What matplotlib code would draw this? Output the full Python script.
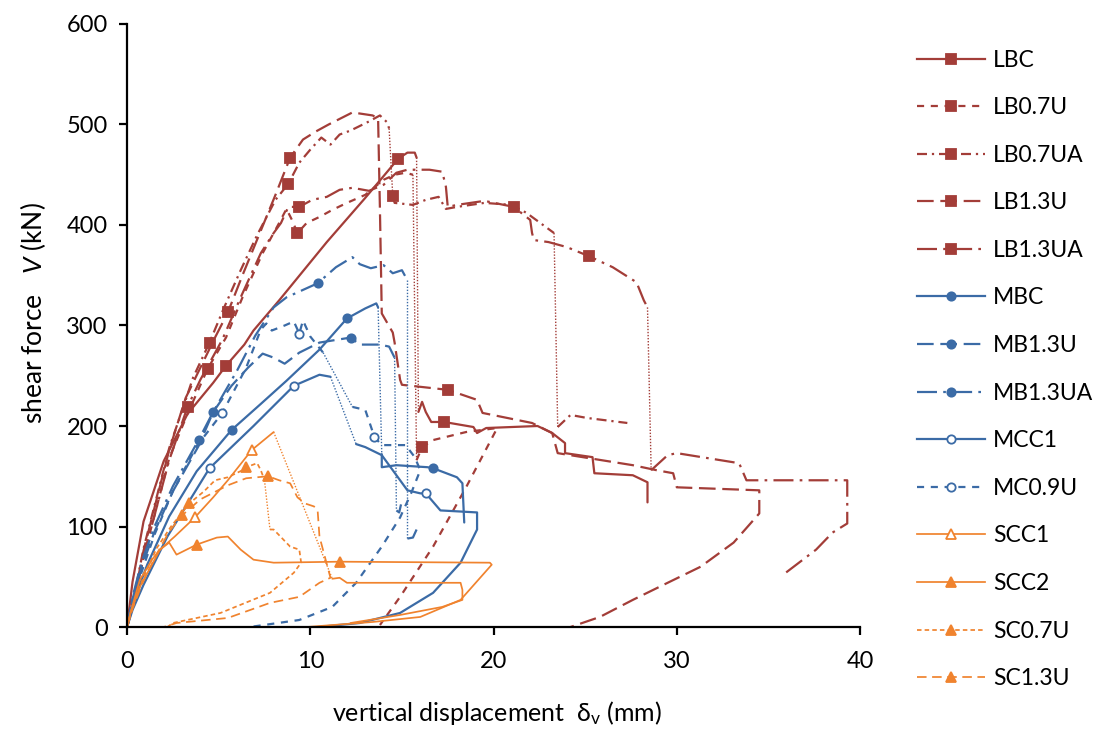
import matplotlib
matplotlib.use('Agg')
import matplotlib.pyplot as plt
from matplotlib.lines import Line2D

plt.rcParams['font.family'] = ['Lato', 'DejaVu Sans']
plt.rcParams['mathtext.fontset'] = 'custom'
plt.rcParams['mathtext.rm'] = 'Lato'
plt.rcParams['mathtext.it'] = 'Lato:italic'

# ---------------- data (x: vertical displacement mm, v: shear force kN) ----------------
LBC_X1 = [0, 0.3, 0.9, 2.0, 3.3, 4.7, 5.4, 6.4, 6.9, 8.3, 10.9, 13.0, 14.8, 15.3, 15.7, 15.8]
LBC_V1 = [0, 45, 105, 165, 212, 243, 260, 281, 295, 325, 383, 427, 466, 472, 472, 467]
LBC_X2 = [15.9, 16.1, 16.3, 16.6, 17.3, 18.9, 19.1, 19.6, 22.4, 23.2, 23.9, 23.9, 25.4, 25.5, 27.6, 28.4, 28.4]
LBC_V2 = [214, 224, 214, 204, 204, 199, 193, 198, 200, 193, 183, 173, 169, 153, 151, 144, 124]
LBC_MX = [5.4, 14.8, 17.3]
LBC_MV = [260, 466, 204]

LB07U_X1 = [0, 0.4, 0.9, 1.6, 2.3, 3.3, 4.4, 5.4, 6.3, 7.4, 8.3, 8.7, 9.0, 9.3, 9.8, 10.5, 11.2, 12.0, 13.0, 14.0, 14.6, 15.2, 15.6]
LB07U_V1 = [0, 28, 70, 118, 168, 212, 257, 288, 328, 372, 402, 416, 405, 392, 402, 408, 415, 422, 430, 445, 450, 452, 450]
LB07U_X2 = [15.8, 16.1, 16.7, 18.5, 20.2, 18.5, 16.7, 14.9, 13.8]
LB07U_V2 = [166, 179, 186, 194, 198, 139, 80, 30, 2]
LB07U_MX = [4.4, 9.3, 16.1]
LB07U_MV = [257, 392, 179]

LB07UA_X1 = [0, 0.4, 0.9, 1.6, 2.3, 3.2, 3.6, 4.5, 5.3, 6.2, 7.1, 8.1, 8.8, 9.4, 10.0, 10.6, 11.1, 11.6, 12.2, 13.2, 13.8, 14.2, 14.3]
LB07UA_V1 = [0, 32, 78, 128, 178, 226, 248, 283, 318, 355, 390, 425, 441, 462, 475, 487, 480, 490, 494, 503, 509, 502, 496]
LB07UA_X2 = [14.5, 14.6, 15.6, 16.3, 17.0, 17.4, 18.0, 19.5, 21.0, 21.8, 22.7, 23.3]
LB07UA_V2 = [429, 422, 420, 425, 428, 416, 418, 422, 420, 412, 400, 392]
LB07UA_X3 = [23.5, 24.2, 25.1, 27.3]
LB07UA_V3 = [199, 211, 208, 203]
LB07UA_MX = [4.5, 8.8, 14.5]
LB07UA_MV = [283, 441, 429]

LB13U_X1 = [0, 0.4, 0.9, 1.6, 2.3, 3.2, 4.0, 4.8, 5.5, 6.3, 7.2, 8.1, 8.9, 9.6, 10.3, 11.0, 12.3, 13.4, 13.7,
            13.8, 13.9, 14.5, 14.6, 14.9, 15.0, 17.5, 19.1, 19.4, 22.1, 23.2, 23.5, 27.6, 28.9, 29.8, 30.0,
            34.5, 34.5, 33.1, 31.3, 29.5, 27.6, 25.8, 24.2]
LB13U_V1 = [0, 30, 76, 126, 176, 228, 258, 288, 313, 350, 390, 430, 467, 485, 493, 500, 512, 509, 506,
            415, 312, 293, 283, 246, 241, 236, 226, 213, 203, 193, 173, 161, 156, 153, 139,
            136, 113, 84, 60, 44, 27, 10, 0]
LB13U_MX = [5.5, 8.9, 17.5]
LB13U_MV = [313, 467, 236]

LB13UA_X1 = [0, 0.4, 0.9, 1.6, 2.3, 3.3, 4.0, 5.2, 6.2, 7.3, 8.0, 8.4, 8.8, 9.4, 10.1, 10.9, 11.6, 12.3, 13.2,
             14.0, 14.7, 15.3, 16.5, 17.2, 17.4, 17.5, 18.0, 19.5, 21.1, 22.0, 22.1, 22.2, 23.0, 24.0, 25.2,
             26.5, 27.8, 28.2, 28.4]
LB13UA_V1 = [0, 26, 70, 118, 166, 219, 246, 286, 328, 372, 392, 402, 418, 418, 425, 428, 435, 437, 434,
             440, 452, 455, 455, 453, 438, 418, 420, 424, 418, 405, 392, 385, 383, 378, 369,
             358, 343, 325, 318]
LB13UA_X2 = [28.6, 29.5, 30.0, 33.4, 33.8, 39.3, 39.3, 38.5, 37.6, 35.8]
LB13UA_V2 = [156, 171, 173, 163, 146, 146, 103, 94, 77, 52]
LB13UA_MX = [3.3, 9.4, 21.1, 25.2]
LB13UA_MV = [219, 418, 418, 369]

MBC_X1 = [0, 0.3, 1.1, 2.3, 3.8, 5.7, 7.3, 8.7, 10.5, 12.0, 13.0, 13.6, 13.7]
MBC_V1 = [0, 22, 62, 110, 155, 196, 222, 245, 276, 307, 317, 322, 318]
MBC_X2 = [13.9, 13.9, 14.7, 16.4, 16.7, 18.0, 18.3, 18.4]
MBC_V2 = [172, 159, 161, 159, 158, 149, 143, 104]
MBC_MX = [5.7, 12.0, 16.7]
MBC_MV = [196, 307, 158]

MB13U_X1 = [0, 0.3, 0.8, 1.5, 2.5, 3.9, 4.7, 5.7, 6.6, 7.4, 8.0, 8.6, 9.4, 10.5, 12.2, 12.7, 13.8, 14.3, 14.6]
MB13U_V1 = [0, 28, 60, 95, 135, 180, 214, 240, 258, 272, 268, 262, 273, 283, 288, 281, 281, 279, 268]
MB13U_X2 = [14.7, 14.85, 14.95]
MB13U_V2 = [116, 114, 122]
MB13U_MX = [4.7, 12.2]
MB13U_MV = [214, 288]

MB13UA_X1 = [0, 0.3, 0.8, 1.5, 2.5, 3.9, 4.7, 6.0, 7.0, 8.0, 8.7, 10.4, 11.4, 12.3, 12.7, 13.3, 14.0, 14.5, 15.0, 15.3]
MB13UA_V1 = [0, 30, 65, 100, 140, 186, 214, 255, 290, 318, 328, 342, 358, 368, 361, 357, 360, 352, 355, 345]
MB13UA_X2 = [15.3, 15.6, 15.8]
MB13UA_V2 = [88, 89, 97]
MB13UA_MX = [3.9, 10.4]
MB13UA_MV = [186, 342]

MCC1_X1 = [0, 0.3, 0.9, 2.2, 4.5, 6.9, 9.1, 10.5, 11.1]
MCC1_V1 = [0, 17, 42, 90, 158, 200, 240, 251, 249]
MCC1_X2 = [12.5, 13.0, 13.9, 14.5, 15.3, 16.0, 16.3, 17.1, 19.1, 19.1, 18.2, 16.7, 14.9, 12.7, 10.4]
MCC1_V2 = [182, 179, 171, 156, 136, 133, 133, 116, 114, 97, 64, 34, 14, 4, 0]
MCC1_MX = [4.5, 9.1, 16.3]
MCC1_MV = [158, 240, 133]

MC09U_X1 = [0, 0.3, 0.8, 1.5, 2.5, 3.8, 5.2, 6.5, 7.3, 7.6, 7.9, 8.6, 9.1, 9.4, 9.6, 10.0, 10.7]
MC09U_V1 = [0, 25, 55, 92, 135, 180, 213, 258, 296, 302, 295, 300, 304, 292, 305, 289, 273]
MC09U_X2 = [12.3, 13.0, 13.5, 13.9, 15.2, 15.7, 16.0, 15.5, 14.9, 13.9, 12.5, 11.2, 9.4, 6.7]
MC09U_V2 = [219, 216, 189, 181, 181, 169, 156, 133, 109, 80, 44, 20, 7, 0]
MC09U_MX = [5.2, 9.4, 13.5]
MC09U_MV = [213, 292, 189]

SCC1_X1 = [0, 0.2, 0.7, 1.8, 2.6, 3.7, 4.7, 5.5, 6.8, 8.0]
SCC1_V1 = [0, 15, 40, 77, 90, 109, 129, 146, 176, 194]
SCC1_X2 = [11.2, 11.6, 12.0, 18.2, 18.3, 18.3, 17.2, 14.9, 12.2]
SCC1_V2 = [48, 49, 44, 44, 37, 27, 20, 12, 4]
SCC1_MX = [3.7, 6.8]
SCC1_MV = [109, 176]

SCC2_X1 = [0, 0.2, 0.7, 1.4, 1.8, 2.3, 2.7, 3.8, 4.9, 5.5, 6.2, 6.9, 8.0, 11.6, 19.8, 19.9, 18.2, 16.0, 13.4, 9.8]
SCC2_V1 = [0, 15, 47, 68, 77, 84, 72, 82, 89, 90, 77, 67, 64, 65, 64, 62, 27, 10, 5, 0]
SCC2_MX = [3.8, 11.6]
SCC2_MV = [82, 65]

SC07U_X1 = [0, 0.3, 0.8, 1.6, 2.4, 3.4, 4.2, 4.8, 5.5, 6.3, 6.5, 7.1, 7.3, 7.5]
SC07U_V1 = [0, 20, 45, 78, 100, 123, 135, 146, 149, 156, 159, 163, 156, 146]
SC07U_X2 = [7.8, 8.0, 8.9, 9.4, 9.5, 9.1, 7.8, 5.1, 2.5, 2.2]
SC07U_V2 = [97, 97, 80, 77, 64, 54, 34, 14, 4, 0]
SC07U_MX = [3.4, 6.5]
SC07U_MV = [123, 159]

SC13U_X1 = [0, 0.3, 0.8, 1.6, 2.3, 3.0, 4.0, 5.5, 6.5, 7.7, 8.3, 8.9, 9.3, 9.7, 10.2, 10.4, 10.5, 11.1,
            10.5, 9.4, 7.8, 5.5, 2.7, 2.0]
SC13U_V1 = [0, 18, 42, 72, 95, 111, 127, 141, 148, 150, 146, 143, 129, 123, 120, 116, 90, 49,
            44, 30, 24, 9, 4, 0]
SC13U_MX = [3.0, 7.7]
SC13U_MV = [111, 150]

LABELS = ['LBC', 'LB0.7U', 'LB0.7UA', 'LB1.3U', 'LB1.3UA', 'MBC', 'MB1.3U', 'MB1.3UA',
          'MCC1', 'MC0.9U', 'SCC1', 'SCC2', 'SC0.7U', 'SC1.3U']

# ---------------- styles ----------------
RED = '#A33D38'
BLUE = '#3B6BA6'
ORANGE = '#F0832E'

SOLID = '-'
DASH = (0, (3.2, 3.0))
LDASH = (0, (7.5, 3.0))
DDOT = (0, (4.5, 2.2, 1.0, 2.2))
LDDOT = (0, (9, 2.8, 1.2, 2.8))
ODASH = (0, (2.6, 1.8))
OMDASH = (0, (5.5, 3.2))

series = [
    ('LBC', [(LBC_X1, LBC_V1), (LBC_X2, LBC_V2)], (LBC_MX, LBC_MV), RED, SOLID, 's', True),
    ('LB0.7U', [(LB07U_X1, LB07U_V1), (LB07U_X2, LB07U_V2)], (LB07U_MX, LB07U_MV), RED, DASH, 's', True),
    ('LB0.7UA', [(LB07UA_X1, LB07UA_V1), (LB07UA_X2, LB07UA_V2), (LB07UA_X3, LB07UA_V3)], (LB07UA_MX, LB07UA_MV), RED, DDOT, 's', True),
    ('LB1.3U', [(LB13U_X1, LB13U_V1)], (LB13U_MX, LB13U_MV), RED, LDASH, 's', True),
    ('LB1.3UA', [(LB13UA_X1, LB13UA_V1), (LB13UA_X2, LB13UA_V2)], (LB13UA_MX, LB13UA_MV), RED, LDDOT, 's', True),
    ('MBC', [(MBC_X1, MBC_V1), (MBC_X2, MBC_V2)], (MBC_MX, MBC_MV), BLUE, SOLID, 'o', True),
    ('MB1.3U', [(MB13U_X1, MB13U_V1), (MB13U_X2, MB13U_V2)], (MB13U_MX, MB13U_MV), BLUE, LDASH, 'o', True),
    ('MB1.3UA', [(MB13UA_X1, MB13UA_V1), (MB13UA_X2, MB13UA_V2)], (MB13UA_MX, MB13UA_MV), BLUE, LDDOT, 'o', True),
    ('MCC1', [(MCC1_X1, MCC1_V1), (MCC1_X2, MCC1_V2)], (MCC1_MX, MCC1_MV), BLUE, SOLID, 'o', False),
    ('MC0.9U', [(MC09U_X1, MC09U_V1), (MC09U_X2, MC09U_V2)], (MC09U_MX, MC09U_MV), BLUE, DASH, 'o', False),
    ('SCC1', [(SCC1_X1, SCC1_V1), (SCC1_X2, SCC1_V2)], (SCC1_MX, SCC1_MV), ORANGE, SOLID, '^', False),
    ('SCC2', [(SCC2_X1, SCC2_V1)], (SCC2_MX, SCC2_MV), ORANGE, SOLID, '^', True),
    ('SC0.7U', [(SC07U_X1, SC07U_V1), (SC07U_X2, SC07U_V2)], (SC07U_MX, SC07U_MV), ORANGE, ODASH, '^', True),
    ('SC1.3U', [(SC13U_X1, SC13U_V1)], (SC13U_MX, SC13U_MV), ORANGE, OMDASH, '^', True),
]

fig = plt.figure(figsize=(10.99, 7.29), dpi=100)
ax = fig.add_axes([0.1156, 0.1399, 0.6670, 0.8272])

handles = []
for name, segs, (mx, mv), col, ls, mk, filled in series:
    is_orange = col == ORANGE
    lw = 1.25 if is_orange else 1.6
    ms = {'s': 6.5, 'o': 6.0, '^': 7.5}[mk]
    mfc = col if filled else 'white'
    for i, (sx, sv) in enumerate(segs):
        ax.plot(sx, sv, color=col, lw=lw, linestyle=ls, solid_capstyle='round',
                dash_capstyle='butt', zorder=2)
        if i + 1 < len(segs):
            nx, nv = segs[i + 1]
            ax.plot([sx[-1], nx[0]], [sv[-1], nv[0]], color=col, lw=1.0,
                    linestyle=(0, (1.0, 1.2)), zorder=2)
    ax.plot(mx, mv, linestyle='none', marker=mk, ms=ms, mfc=mfc, mec=col,
            mew=1.3, zorder=3)
    handles.append(Line2D([0], [0], color=col, lw=lw, linestyle=ls, marker=mk,
                          ms=ms, mfc=mfc, mec=col, mew=1.3))

ax.set_xlim(0, 40)
ax.set_ylim(0, 600)
ax.set_xticks(range(0, 41, 10))
ax.set_yticks(range(0, 601, 100))
for s in ['top', 'right']:
    ax.spines[s].set_visible(False)
for s in ['left', 'bottom']:
    ax.spines[s].set_linewidth(1.6)
    ax.spines[s].set_color('black')
ax.tick_params(axis='both', direction='out', length=6, width=1.6, labelsize=17,
               colors='black')
ax.tick_params(axis='x', pad=11)
ax.tick_params(axis='y', pad=8)

ax.set_ylabel('shear force   $\\it{V}$ (kN)', fontsize=19)
ax.yaxis.set_label_coords(-0.108, 0.52)
ax.set_xlabel('vertical displacement  δ$_{\\mathrm{v}}$ (mm)', fontsize=18)
ax.xaxis.set_label_coords(0.505, -0.119)

fig.legend(handles, LABELS, loc='upper left', bbox_to_anchor=(0.8344, 0.932),
           frameon=False, fontsize=16.5, handlelength=2.97, handletextpad=0.35,
           labelspacing=1.16, borderpad=0, borderaxespad=0, numpoints=1)

fig.savefig('out.png', dpi=100)
